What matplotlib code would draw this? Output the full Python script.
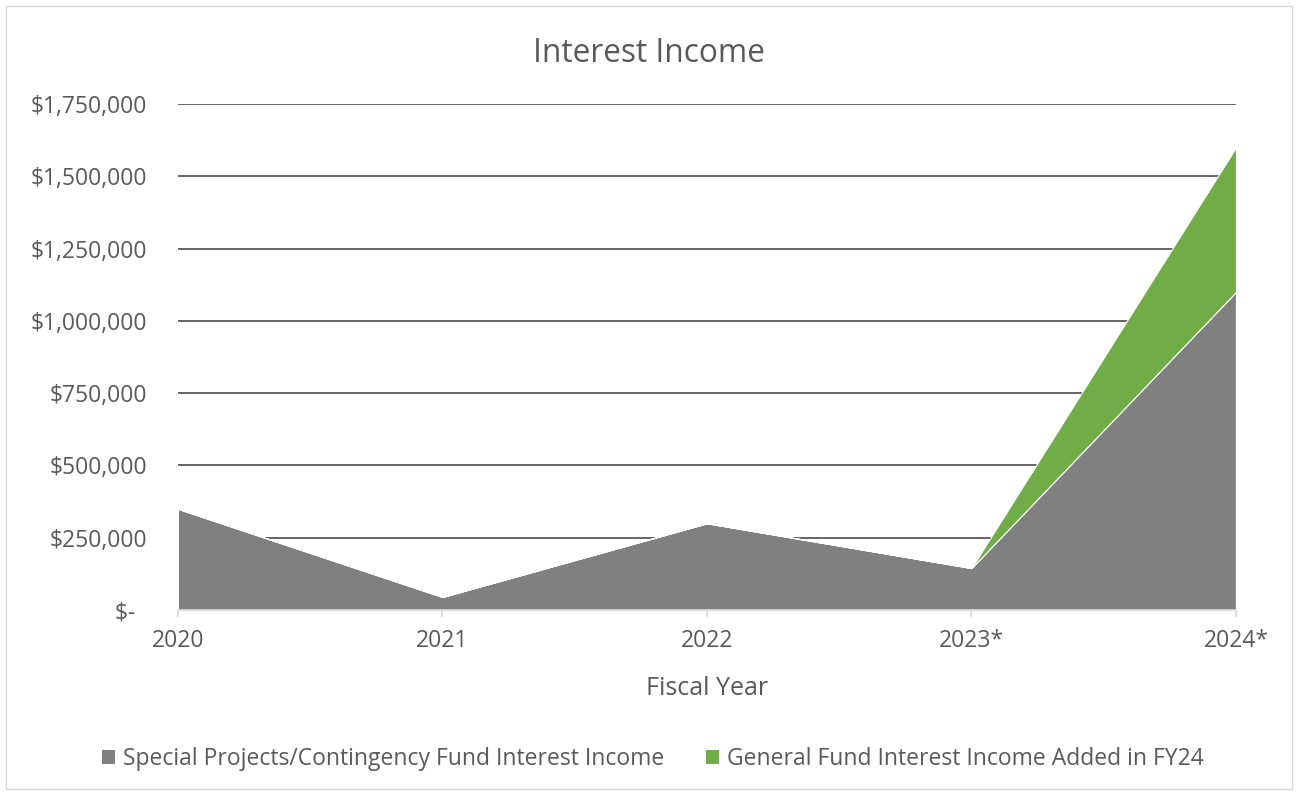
import matplotlib
matplotlib.use("Agg")
import matplotlib.pyplot as plt
from matplotlib.patches import Patch, Rectangle
from matplotlib.ticker import FixedLocator, FuncFormatter
import numpy as np

# Fiscal years and interest income (USD)
years = ["2020", "2021", "2022", "2023*", "2024*"]
special_projects = [350000, 45000, 300000, 145000, 1100000]
general_fund = [0, 0, 0, 0, 500000]

series_names = [
    "Special Projects/Contingency Fund Interest Income",
    "General Fund Interest Income Added in FY24",
]
y_ticks = [0, 250000, 500000, 750000, 1000000, 1250000, 1500000, 1750000]

GRAY = "#808080"
GREEN = "#70AD47"
TEXT = "#595959"
FONT = "Open Sans"

plt.rcParams["font.family"] = [FONT, "DejaVu Sans"]

fig = plt.figure(figsize=(12.98, 7.95), dpi=100)
ax = fig.add_axes([0.1371, 0.2327, 0.8151, 0.6365])

x = np.arange(len(years))
ax.stackplot(x, special_projects, general_fund,
             colors=[GRAY, GREEN], edgecolor="white", linewidth=0.8, zorder=2)

ax.set_xlim(x[0], x[-1])
ax.set_ylim(0, y_ticks[-1])

# horizontal gridlines (no line at zero)
for v in y_ticks[1:]:
    ax.axhline(v, color="#595959", linewidth=1.3, zorder=1)

ax.yaxis.set_major_locator(FixedLocator(y_ticks))


def money(v, _pos):
    if v == 0:
        return "$-  "
    return "${:,.0f}".format(v)


ax.yaxis.set_major_formatter(FuncFormatter(money))
ax.set_xticks(x)
ax.set_xticklabels(years)

for s in ["top", "right", "left"]:
    ax.spines[s].set_visible(False)
ax.spines["bottom"].set_color("#D9D9D9")
ax.spines["bottom"].set_linewidth(1.2)
ax.spines["bottom"].set_zorder(3)

ax.tick_params(axis="y", length=0, pad=22, labelsize=16.5, labelcolor=TEXT)
ax.tick_params(axis="x", length=5, width=1.2, color="#D9D9D9", pad=9,
               labelsize=16.5, labelcolor=TEXT)

ax.set_xlabel("Fiscal Year", fontsize=18, color=TEXT, labelpad=16)

fig.text(0.5, 0.933, "Interest Income", ha="center", va="center",
         fontsize=22.8, color=TEXT)

handles = [Patch(facecolor=GRAY, edgecolor="none"),
           Patch(facecolor=GREEN, edgecolor="none")]
fig.legend(handles, series_names, loc="center", bbox_to_anchor=(0.503, 0.045),
           ncol=2, frameon=False, fontsize=16.5, labelcolor=TEXT,
           handlelength=0.55, handleheight=0.55, handletextpad=0.35,
           columnspacing=1.85)

# light outer frame of the chart area
fig.patches.append(Rectangle((0.005, 0.008), 0.99, 0.984, transform=fig.transFigure,
                             fill=False, edgecolor="#D9D9D9", linewidth=1.0))

fig.savefig("out.png", dpi=100, facecolor="white")
